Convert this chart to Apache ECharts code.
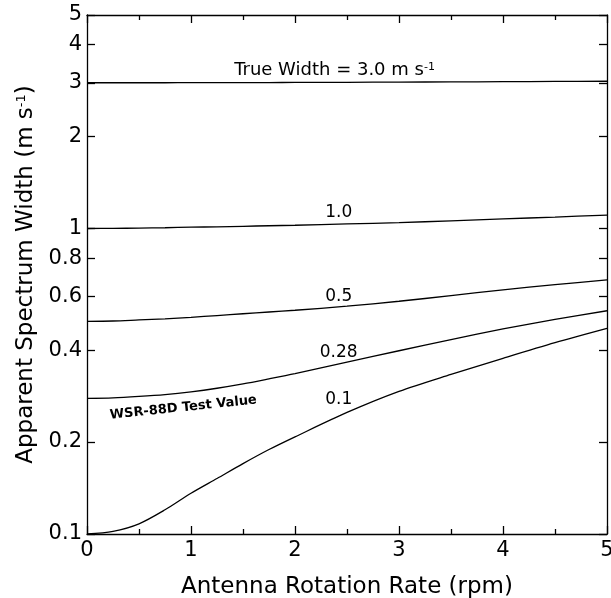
<!DOCTYPE html>
<html>
<head>
<meta charset="utf-8">
<script src="https://cdn.jsdelivr.net/npm/echarts@6/dist/echarts.min.js"></script>
<style>
  html, body { margin: 0; padding: 0; background: #fff; }
  #chart { width: 611px; height: 598px; }
</style>
</head>
<body>
<div id="chart"></div>
<script>
// rotation rate (rpm)
var rates = [0, 0.25, 0.5, 0.75, 1, 1.25, 1.5, 1.75, 2, 2.5, 3, 3.5, 4, 4.5, 5];
// apparent spectrum width for each true width (m s-1)
var w3_0 = [3.0, 3.0, 3.0, 3.001, 3.002, 3.003, 3.004, 3.005, 3.007, 3.01, 3.015, 3.02, 3.025, 3.03, 3.035];
var w1_0 = [1.0, 1.001, 1.003, 1.006, 1.01, 1.013, 1.017, 1.021, 1.025, 1.035, 1.045, 1.06, 1.075, 1.09, 1.107];
var w0_5 = [0.497, 0.498, 0.502, 0.506, 0.512, 0.519, 0.526, 0.533, 0.54, 0.557, 0.578, 0.603, 0.63, 0.655, 0.679];
var w0_28 = [0.278, 0.279, 0.282, 0.286, 0.292, 0.3, 0.31, 0.322, 0.335, 0.365, 0.398, 0.433, 0.469, 0.504, 0.538];
var w0_1 = [0.1, 0.102, 0.108, 0.12, 0.136, 0.152, 0.17, 0.189, 0.208, 0.25, 0.293, 0.333, 0.376, 0.423, 0.471];
var yTicks = [0.1, 0.2, 0.4, 0.6, 0.8, 1, 2, 3, 4, 5];

var font = 'DejaVu Sans';

function pairs(ys) {
  return rates.map(function (x, i) { return [x, ys[i]]; });
}

// text label placed on the curve at a given rate
function curveLabel(x, y, text, opts) {
  var label = {
    show: true,
    position: 'top',
    distance: 4,
    formatter: text,
    color: '#000',
    fontFamily: font,
    fontSize: 17
  };
  for (var k in (opts || {})) label[k] = opts[k];
  return {
    coord: [x, y],
    symbol: 'circle',
    symbolSize: 1,
    itemStyle: { color: 'rgba(0,0,0,0)' },
    label: label
  };
}

function lineSeries(ys, marks, axisIdx) {
  return {
    type: 'line',
    data: pairs(ys),
    xAxisIndex: axisIdx || 0,
    yAxisIndex: axisIdx || 0,
    smooth: 0.3,
    showSymbol: false,
    silent: true,
    lineStyle: { color: '#000', width: 1.3 },
    markPoint: { silent: true, animation: false, data: marks }
  };
}

var tickStyle = { color: '#000', width: 1.3 };
var lineStyle = { color: '#000', width: 1.3 };

var myChart = echarts.init(document.getElementById('chart'));
myChart.setOption({
  animation: false,
  grid: {
    left: 87,
    right: 4,
    top: 15,
    bottom: 64,
    outerBoundsMode: 'none'
  },
  xAxis: [{
    type: 'value',
    min: 0,
    max: 5,
    interval: 1,
    name: 'Antenna Rotation Rate (rpm)',
    nameLocation: 'middle',
    nameGap: 42,
    nameTextStyle: { color: '#000', fontFamily: font, fontSize: 23 },
    axisLine: { show: true, onZero: false, lineStyle: lineStyle },
    axisTick: { show: true, inside: true, length: 8, lineStyle: tickStyle },
    minorTick: { show: true, splitNumber: 2, length: 5, lineStyle: tickStyle },
    splitLine: { show: false },
    axisLabel: { color: '#000', fontFamily: font, fontSize: 21, margin: 6 }
  }, {
    type: 'value',
    position: 'top',
    min: 0,
    max: 5,
    interval: 1,
    axisLine: { show: true, onZero: false, lineStyle: lineStyle },
    axisTick: { show: true, inside: true, length: 8, lineStyle: tickStyle },
    minorTick: { show: true, splitNumber: 2, length: 5, lineStyle: tickStyle },
    splitLine: { show: false },
    axisLabel: { show: false }
  }],
  yAxis: [{
    type: 'log',
    logBase: 10,
    min: 0.1,
    max: 5,
    name: 'Apparent Spectrum Width (m s{sup|-1})',
    nameLocation: 'middle',
    nameGap: 43,
    nameTextStyle: {
      color: '#000', fontFamily: font, fontSize: 23,
      rich: { sup: { fontFamily: font, fontSize: 13, verticalAlign: 'top', padding: [0, 0, 10, 0] } }
    },
    axisLine: { show: true, onZero: false, lineStyle: lineStyle },
    axisTick: { show: true, inside: true, length: 8, customValues: yTicks, lineStyle: tickStyle },
    splitLine: { show: false },
    axisLabel: {
      color: '#000', fontFamily: font, fontSize: 21, margin: 5,
      customValues: yTicks,
      formatter: function (v) { return String(+(+v).toPrecision(3)); }
    }
  }, {
    type: 'log',
    logBase: 10,
    min: 0.1,
    max: 5,
    position: 'right',
    axisLine: { show: true, onZero: false, lineStyle: lineStyle },
    axisTick: { show: true, inside: true, length: 8, customValues: yTicks, lineStyle: tickStyle },
    splitLine: { show: false },
    axisLabel: { show: false }
  }],
  series: [
    // the 3.0 curve sits on the mirrored top/right axes so those get drawn too
    lineSeries(w3_0, [curveLabel(2.38, 3.0, 'True Width = 3.0 m s{sup|-1}', {
      distance: 2,
      fontSize: 18,
      rich: { sup: { fontFamily: font, fontSize: 11, verticalAlign: 'top', padding: [0, 0, 8, 0] } }
    })], 1),
    lineSeries(w1_0, [curveLabel(2.42, 1.02, '1.0')]),
    lineSeries(w0_5, [curveLabel(2.42, 0.542, '0.5')]),
    lineSeries(w0_28, [
      curveLabel(2.42, 0.355, '0.28'),
      curveLabel(0.92, 0.29, 'WSR-88D Test Value', {
        position: 'bottom',
        distance: 8,
        rotate: 6,
        fontSize: 13,
        fontWeight: 'bold'
      })
    ]),
    lineSeries(w0_1, [curveLabel(2.42, 0.25, '0.1')])
  ]
});
</script>
</body>
</html>
